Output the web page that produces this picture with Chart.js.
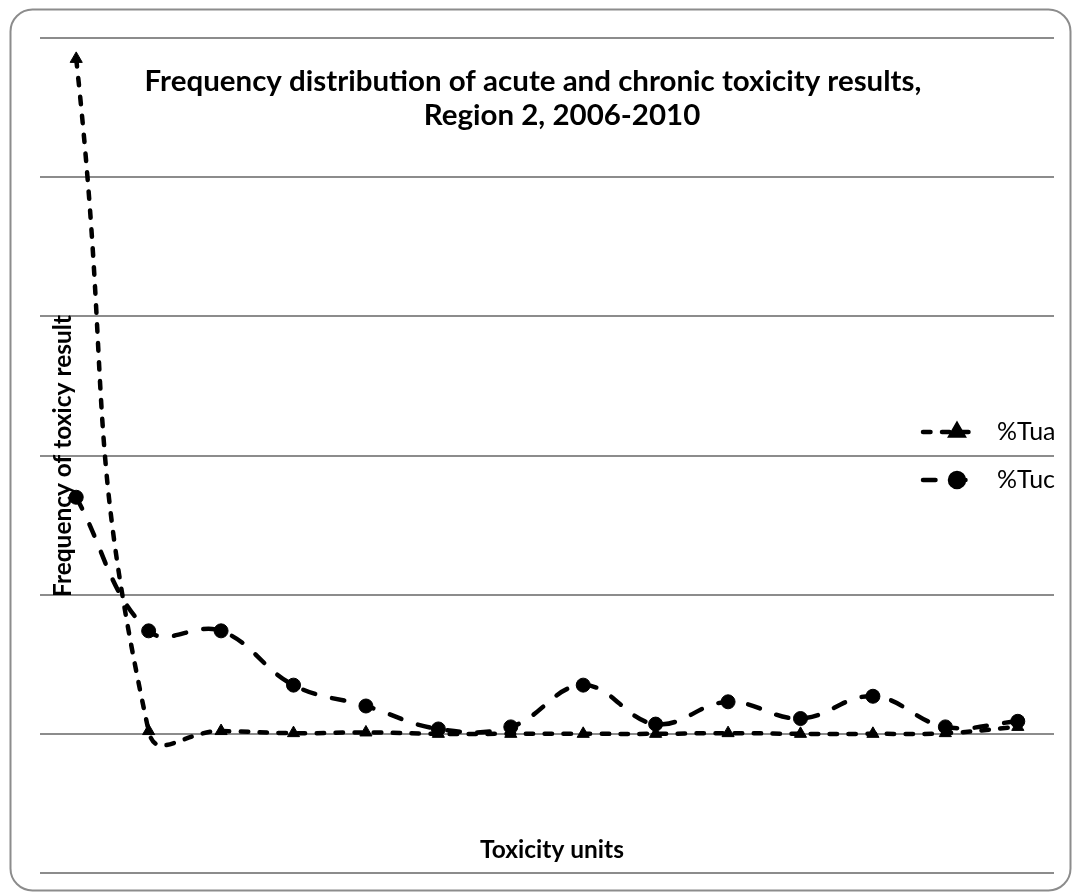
<!DOCTYPE html>
<html>
<head>
<meta charset="utf-8">
<script src="https://cdn.jsdelivr.net/npm/chart.js@4.4.1/dist/chart.umd.min.js"></script>
<style>
  body { margin: 0; background: #fff; }
  #wrap { position: relative; width: 1074px; height: 896px; }
</style>
</head>
<body>
<div id="wrap"><canvas id="chart"></canvas></div>
<script>
// dados
var categorias = ["1", "2", "3", "4", "5", "6", "7", "8", "9", "10", "11", "12", "13", "14"];
var tua = [48.5, 0.2, 0.2, 0.05, 0.1, 0.0, 0.0, 0.0, 0.0, 0.05, 0.0, 0.0, 0.05, 0.5];
var tuc = [17.0, 7.4, 7.4, 3.5, 2.0, 0.35, 0.5, 3.5, 0.7, 2.3, 1.1, 2.7, 0.5, 0.9];
var nomes = ["%Tua", "%Tuc"];
var titulo = ["Frequency distribution of acute and chronic toxicity results,", "Region 2, 2006-2010"];
var tituloY = "Frequency of toxicy result";
var tituloX = "Toxicity units";

var cinza = "#8c8c8c";

// acha o tamanho de fonte que da a largura certa
function ajustaFonte(ctx, texto, peso, familia, largura) {
    ctx.font = peso + " 20px " + familia;
    var w = ctx.measureText(texto).width;
    return 20 * largura / w;
}

var textos = {
    id: "textos",
    beforeDraw: function(chart) {
        var ctx = chart.ctx;
        ctx.save();
        // moldura arredondada
        ctx.strokeStyle = cinza;
        ctx.lineWidth = 2;
        ctx.beginPath();
        ctx.roundRect(10.5, 9.5, 1060, 881, 22);
        ctx.stroke();
        ctx.restore();
    },
    beforeDatasetsDraw: function(chart) {
        var ctx = chart.ctx;
        ctx.save();
        ctx.fillStyle = "#000";
        ctx.textAlign = "center";
        ctx.textBaseline = "alphabetic";

        var fam = "Lato, 'Open Sans', sans-serif";
        var s1 = ajustaFonte(ctx, titulo[0], "bold", fam, 777);
        ctx.font = "bold " + s1 + "px " + fam;
        ctx.fillText(titulo[0], 533, 91);
        ctx.fillText(titulo[1], 562, 125);

        // titulo do eixo y
        var s2 = ajustaFonte(ctx, tituloY, "bold", fam, 282);
        ctx.font = "bold " + s2 + "px " + fam;
        ctx.save();
        ctx.translate(63, 456);
        ctx.rotate(-Math.PI / 2);
        ctx.textBaseline = "middle";
        ctx.fillText(tituloY, 0, 0);
        ctx.restore();

        // titulo do eixo x
        ctx.textBaseline = "middle";
        ctx.fillText(tituloX, 552, 850);

        // legenda
        var s3 = ajustaFonte(ctx, "%Tuc", "normal", fam, 58);
        var ys = [432, 480];
        var estilos = ["triangle", "circle"];
        for (var i = 0; i < nomes.length; i++) {
            var ds = chart.data.datasets[i];
            ctx.strokeStyle = "#000";
            ctx.lineWidth = ds.borderWidth;
            ctx.lineCap = "round";
            ctx.setLineDash(ds.borderDash);
            ctx.beginPath();
            ctx.moveTo(923, ys[i]);
            ctx.lineTo(976, ys[i]);
            ctx.stroke();
            ctx.setLineDash([]);
            Chart.helpers.drawPoint(ctx, { pointStyle: estilos[i], radius: 7, borderWidth: 1 }, 957, ys[i]);
            ctx.fillStyle = "#000";
            ctx.font = s3 + "px " + fam;
            ctx.textAlign = "left";
            ctx.fillText(nomes[i], 997, ys[i]);
        }
        ctx.restore();
    }
};

var ctx = document.getElementById("chart");
var chart = new Chart(ctx, {
    type: "line",
    data: {
        labels: categorias,
        datasets: [{
            label: nomes[0],
            data: tua,
            borderColor: "#000",
            backgroundColor: "#000",
            borderWidth: 4.5,
            borderDash: [7.5, 11.5],
            borderCapStyle: "round",
            tension: 0.5,
            pointStyle: "triangle",
            pointRadius: 7,
            pointBorderWidth: 1,
            clip: false
        }, {
            label: nomes[1],
            data: tuc,
            borderColor: "#000",
            backgroundColor: "#000",
            borderWidth: 4.5,
            borderDash: [12.5, 17.5],
            borderCapStyle: "round",
            tension: 0.4,
            pointStyle: "circle",
            pointRadius: 7,
            pointBorderWidth: 1,
            clip: false
        }]
    },
    options: {
        responsive: true,
        maintainAspectRatio: false,
        animation: false,
        layout: { padding: { left: 40, right: 20, top: 38, bottom: 23 } },
        plugins: {
            legend: { display: false },
            title: { display: false },
            tooltip: { enabled: false }
        },
        scales: {
            x: {
                offset: true,
                grid: { display: false, drawTicks: false },
                border: { display: false },
                ticks: { display: false }
            },
            y: {
                min: -10,
                max: 50,
                ticks: { display: false, stepSize: 10 },
                grid: { color: cinza, lineWidth: 2, drawTicks: false },
                border: { display: false }
            }
        }
    },
    plugins: [textos]
});
</script>
</body>
</html>
